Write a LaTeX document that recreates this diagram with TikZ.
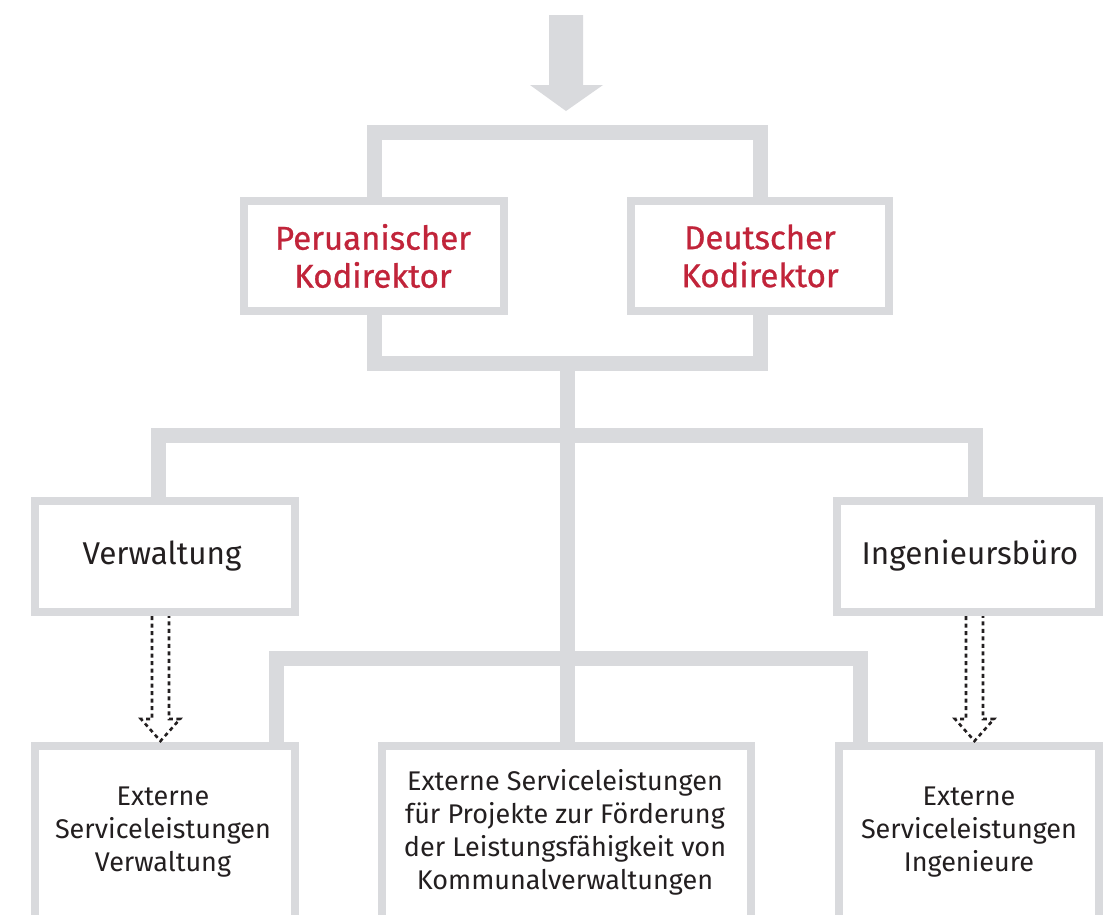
\documentclass[tikz,border=0pt]{standalone}
\usepackage{fontspec}
\setmainfont{Fira Sans}
\usetikzlibrary{calc}
\definecolor{lg}{HTML}{D9DADD}
\definecolor{rd}{HTML}{C1243A}
\definecolor{tx}{HTML}{231F20}
\tikzset{
  box/.style={draw=lg, line width=8pt, fill=white, inner sep=0pt, minimum width=#1},
  redtxt/.style={text=rd, align=center, font=\fontsize{33}{38}\selectfont\addfontfeatures{FakeBold=0.8}},
  midtxt/.style={text=tx, align=center, font=\fontsize{31.5}{36}\selectfont},
  smalltxt/.style={text=tx, align=center, font=\fontsize{27}{33}\selectfont},
  conn/.style={draw=lg, line width=15pt, line join=miter, line cap=butt},
  dotline/.style={draw=tx, line width=2.6pt, dash pattern=on 4pt off 3.5pt, line join=miter}
}
\begin{document}
\begin{tikzpicture}[x=1pt,y=-1pt]
\useasboundingbox (0,0) rectangle (1113,914);
\clip (0,0) rectangle (1113,914);
% top arrow
\fill[lg] (549,15) -- (583,15) -- (583,85) -- (603,85) -- (566,111) -- (530,85) -- (549,85) -- cycle;
% boxes
\node[box=260, minimum height=110] (peru) at (374,256) {};
\node[redtxt] (perut) at (373,256) {Peruanischer\\Kodirektor};
\node[box=258, minimum height=110] (deut) at (760,256) {};
\node[redtxt] (deutt) at (760,256) {Deutscher\\Kodirektor};
\node[box=260, minimum height=111] (verw) at (165,556.5) {};
\node[midtxt] (verwt) at (162,556) {Verwaltung};
\node[box=262, minimum height=111] (inge) at (968,556.5) {};
\node[midtxt] (inget) at (970,556) {Ingenieursbüro};
\node[box=260, minimum height=300] (b1) at (165,896) {};
\node[smalltxt] (b1t) at (163,832) {Externe\\Serviceleistungen\\Verwaltung};
\node[box=369, minimum height=300] (b2) at (566.5,896) {};
\node[smalltxt] (b2t) at (565,832) {Externe Serviceleistungen\\für Projekte zur Förderung\\der Leistungsfähigkeit von\\Kommunalverwaltungen};
\node[box=260, minimum height=300] (b3) at (969,896) {};
\node[smalltxt] (b3t) at (969,832) {Externe\\Serviceleistungen\\Ingenieure};
% connectors
\coordinate (j1) at (566,132.5);
\draw[conn] (peru.north) |- (j1) -| (deut.north);
\coordinate (j2) at (567,363);
\draw[conn] (peru.south) |- (j2) -| (deut.south);
\draw[conn] (j2) -- (b2.north -| j2);
\coordinate (j3) at (567,435);
\draw[conn] ([xshift=-7pt]verw.north) |- (j3) -| ([xshift=7pt]inge.north);
\coordinate (j4) at (567,658.5);
\draw[conn] ([xshift=111pt]b1.north) |- (j4) -| ([xshift=-109pt]b3.north);
% dotted arrows
\draw[dotline] ([xshift=-13pt]verw.south) -- ++(0,103) -- ++(-11,0) -- ++(19.5,22) -- ++(19.5,-22) -- ++(-11,0) -- ++(0,-103);
\draw[dotline] ([xshift=-2pt]inge.south) -- ++(0,103) -- ++(-11,0) -- ++(19.5,22) -- ++(19.5,-22) -- ++(-11,0) -- ++(0,-103);
\end{tikzpicture}
\end{document}
